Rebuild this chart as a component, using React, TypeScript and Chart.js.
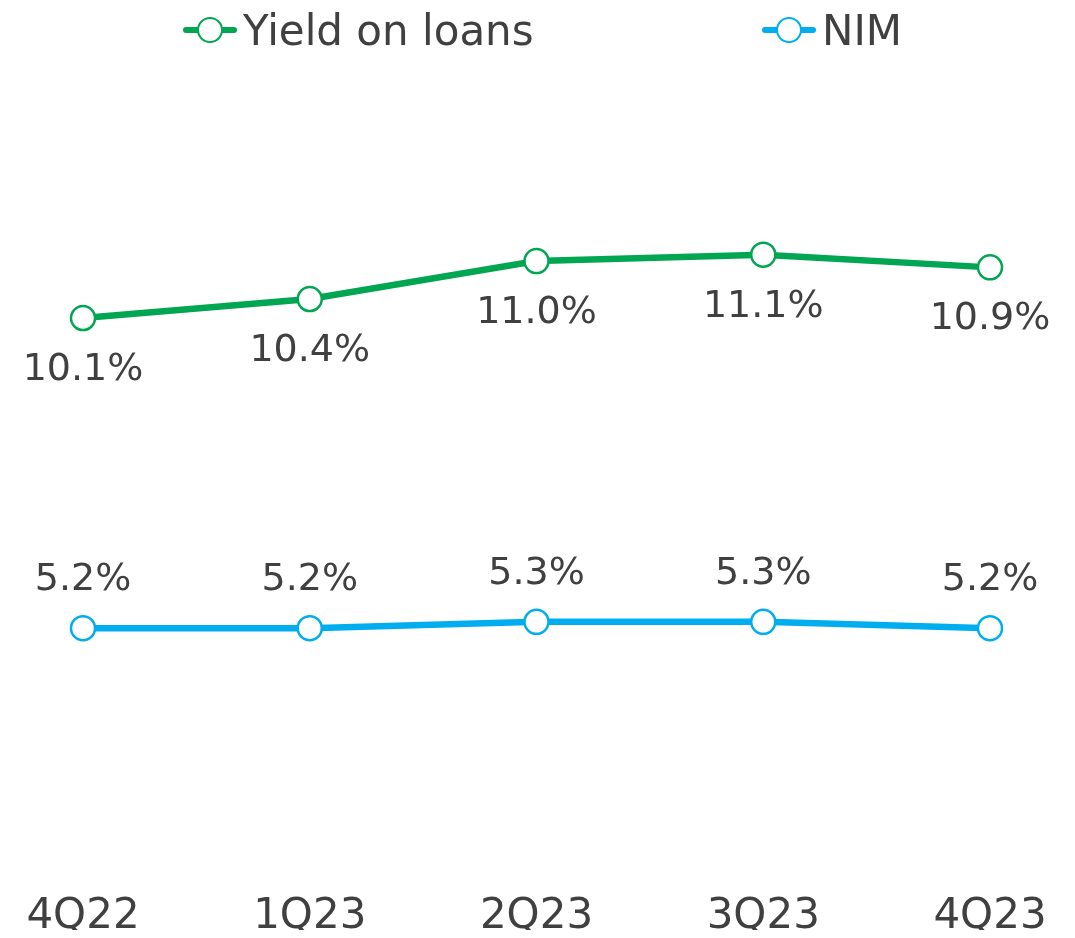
import React, { useEffect, useRef } from "react";
import { Chart, registerables } from "chart.js";
Chart.register(...registerables);

const quarters = ["4Q22", "1Q23", "2Q23", "3Q23", "4Q23"];
const yieldOnLoans = [10.1, 10.4, 11.0, 11.1, 10.9];
const nim = [5.2, 5.2, 5.3, 5.3, 5.2];
const seriesNames = ["Yield on loans", "NIM"];

const GREEN = "#00A651";
const BLUE = "#00AEEF";
const TEXT = "#404040";
const FONT = "'DejaVu Sans', sans-serif";

const labelPlugin = {
  id: "pointLabels",
  afterDatasetsDraw(chart: any) {
    const ctx = chart.ctx;
    chart.data.datasets.forEach((ds: any, i: number) => {
      const meta = chart.getDatasetMeta(i);
      const off = i === 0 ? 52 : -48;
      meta.data.forEach((pt: any, j: number) => {
        ctx.save();
        ctx.font = `38px ${FONT}`;
        ctx.fillStyle = TEXT;
        ctx.textAlign = "center";
        ctx.textBaseline = "middle";
        ctx.fillText(Number(ds.data[j]).toFixed(1) + "%", pt.x, pt.y + off);
        ctx.restore();
      });
    });
  },
};

function LegendItem({ left, color, label }: { left: number; color: string; label: string }) {
  return (
    <div style={{ position: "absolute", left, top: 0, height: 44, display: "flex", alignItems: "center" }}>
      <div style={{ position: "relative", width: 54, height: 44 }}>
        <div style={{ position: "absolute", left: 0, top: 19, width: 54, height: 6, borderRadius: 3, background: color }} />
        <div
          style={{
            position: "absolute",
            left: 14,
            top: 9,
            width: 26,
            height: 26,
            boxSizing: "border-box",
            borderRadius: "50%",
            border: `2.5px solid ${color}`,
            background: "#fff",
          }}
        />
      </div>
      <span style={{ marginLeft: 6, font: `42px ${FONT}`, color: TEXT, whiteSpace: "nowrap" }}>{label}</span>
    </div>
  );
}

export default function App() {
  const ref = useRef<HTMLCanvasElement>(null);
  useEffect(() => {
    if (!ref.current) return;
    const chart = new Chart(ref.current, {
      type: "line",
      data: {
        labels: quarters,
        datasets: [
          {
            label: seriesNames[0],
            data: yieldOnLoans,
            borderColor: GREEN,
            borderWidth: 6.5,
            pointRadius: 12,
            pointBorderWidth: 2.5,
            pointBackgroundColor: "#fff",
            pointBorderColor: GREEN,
            tension: 0,
          },
          {
            label: seriesNames[1],
            data: nim,
            borderColor: BLUE,
            borderWidth: 6.5,
            pointRadius: 12,
            pointBorderWidth: 2.5,
            pointBackgroundColor: "#fff",
            pointBorderColor: BLUE,
            tension: 0,
          },
        ],
      },
      options: {
        animation: false,
        responsive: true,
        maintainAspectRatio: false,
        layout: { padding: { top: 62, left: 75, right: 77, bottom: 0 } },
        plugins: { legend: { display: false }, tooltip: { enabled: false } },
        scales: {
          x: {
            grid: { display: false, drawTicks: false },
            border: { display: false },
            ticks: { color: TEXT, font: { family: FONT, size: 42 }, padding: 12, maxRotation: 0 },
            afterFit: (s: any) => {
              s.height = 50;
            },
          },
          y: { display: false, min: 1.222, max: 14.018 },
        },
      },
      plugins: [labelPlugin],
    });
    return () => chart.destroy();
  }, []);
  return (
    <div style={{ position: "relative", width: 1059, height: 922 }}>
      <canvas ref={ref} />
      <LegendItem left={175} color={GREEN} label={seriesNames[0]} />
      <LegendItem left={754} color={BLUE} label={seriesNames[1]} />
    </div>
  );
}
